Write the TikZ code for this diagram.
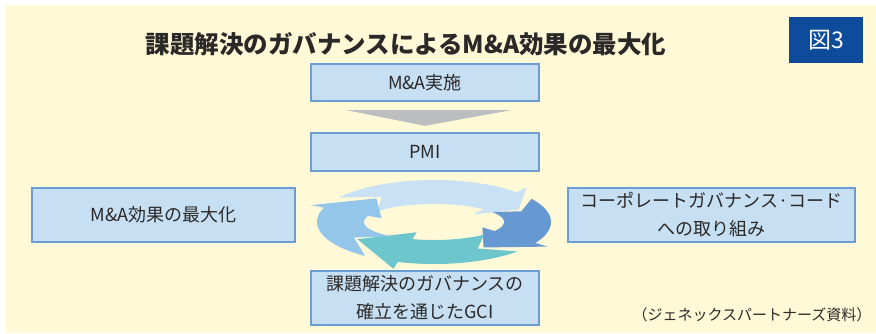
\documentclass[tikz,border=0pt]{standalone}
\usepackage{fontspec}
\setmainfont{Noto Sans CJK JP}
\usetikzlibrary{calc}
\definecolor{cream}{HTML}{FFF9D7}
\definecolor{boxfill}{HTML}{C7DFF3}
\definecolor{boxline}{HTML}{6A9DD4}
\definecolor{navy}{HTML}{0D4C9B}
\definecolor{grayarr}{HTML}{BCBEC0}
\definecolor{txt}{HTML}{2B2828}
\definecolor{cycA}{HTML}{C9E1F5}
\definecolor{cycB}{HTML}{6699D1}
\definecolor{cycC}{HTML}{6EC6CD}
\definecolor{cycD}{HTML}{94C6EC}
\tikzset{
  declare function={ex(\t,\s)=434+(70+\s*47)*cos(\t); ey(\t,\s)=222-(18+\s*24)*sin(\t);},
  bluebox/.style={draw=boxline, line width=2.4pt, fill=boxfill, text=txt, inner sep=0pt,
    align=center, font=\fontsize{18}{28}\selectfont},
}
\newcommand\cycarrow[5]{%
  \fill[#1] ({ex(#2,1)},{ey(#2,1)})
    -- plot[domain=#2:#4, samples=40, variable=\u] ({ex(\u,1)},{ey(\u,1)})
    -- ({ex(#4,1.3)},{ey(#4,1.3)})
    -- ({ex(#5,0.5)},{ey(#5,0.5)})
    -- ({ex(#4,-0.3)},{ey(#4,-0.3)})
    -- plot[domain=#4:#2, samples=40, variable=\u] ({ex(\u,0)},{ey(\u,0)})
    -- ({ex(#3,0.5)},{ey(#3,0.5)}) -- cycle;}
\begin{document}
\begin{tikzpicture}[x=1pt,y=-1pt]
\useasboundingbox (0,0) rectangle (876,333);
\fill[white] (0,0) rectangle (876,333);
\fill[cream] (6,5) rectangle (876,333);
% title
\node[text=txt, font=\fontsize{24.5}{28}\selectfont\bfseries] (title) at (406,44) {課題解決のガバナンスによるM\&A効果の最大化};
\node[fill=navy, text=white, minimum width=74pt, minimum height=46pt, inner sep=0pt,
  font=\fontsize{23}{26}\selectfont] (fig) at (826,40) {図3};
% boxes
\node[bluebox, minimum width=228pt, minimum height=37pt] (ma) at (425,82.5) {M\&A実施};
\node[bluebox, minimum width=228pt, minimum height=38pt] (pmi) at (425,152) {PMI};
\node[bluebox, minimum width=263pt, minimum height=54pt] (eff) at (163.5,215) {M\&A効果の最大化};
\node[bluebox, minimum width=287pt, minimum height=54pt] (cg) at (711.5,215) {コーポレートガバナンス·コード\\への取り組み};
\node[bluebox, minimum width=228pt, minimum height=54pt] (gci) at (425,298) {課題解決のガバナンスの\\確立を通じたGCI};
% gray down arrow
\fill[grayarr] ($(ma.south)+(-78,8)$) -- ($(ma.south)+(86,8)$) -- ($(pmi.north)+(0,-6)$) -- cycle;
% cycle arrows
\cycarrow{cycA}{144}{124}{45}{25}
\cycarrow{cycB}{33.5}{21}{-30}{-58}
\cycarrow{cycC}{-44.5}{-62}{-108}{-145}
\cycarrow{cycD}{-126}{-149}{-200}{-232}
% source
\node[text=txt, font=\fontsize{15}{17}\selectfont] (src) at (752,315) {（ジェネックスパートナーズ資料）};
\end{tikzpicture}
\end{document}
